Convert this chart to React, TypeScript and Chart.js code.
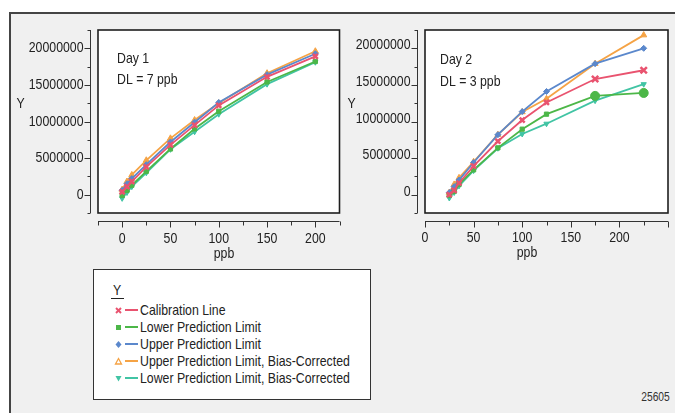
import React, { useEffect, useRef } from 'react';
import { Chart, registerables } from 'chart.js';

Chart.register(...registerables);

const FONT = '"Liberation Sans Narrow", "Liberation Sans", Arial, sans-serif';
const NARROW = 0.82;

const RED = '#e9536f';
const GREEN = '#4cb748';
const BLUE = '#5b88cc';
const ORANGE = '#f5a345';
const TEAL = '#41c4a4';

const seriesLabels = [
  'Calibration Line',
  'Lower Prediction Limit',
  'Upper Prediction Limit',
  'Upper Prediction Limit, Bias-Corrected',
  'Lower Prediction Limit, Bias-Corrected',
];

// Day 1
const day1Ppb = [0, 5, 10, 25, 50, 75, 100, 150, 200];
const day1Calibration = [400000, 1100000, 1800000, 3800000, 6800000, 9500000, 12200000, 16100000, 18900000];
const day1Lower = [-100000, 600000, 1300000, 3200000, 6250000, 9000000, 11400000, 15400000, 18200000];
const day1Upper = [600000, 1500000, 2200000, 4100000, 7200000, 9900000, 12600000, 16400000, 19250000];
const day1UpperBC = [700000, 1800000, 2700000, 4700000, 7700000, 10200000, 12500000, 16600000, 19600000];
const day1LowerBC = [-500000, 300000, 1100000, 3000000, 6200000, 8600000, 11000000, 15100000, 18100000];

// Day 2
const day2Ppb = [25, 30, 35, 50, 75, 100, 125, 175, 225];
const day2Calibration = [0, 600000, 1600000, 3900000, 7300000, 10200000, 12600000, 15800000, 17000000];
const day2Lower = [-100000, 450000, 1400000, 3400000, 6400000, 8950000, 11000000, 13500000, 13900000];
const day2Upper = [300000, 1100000, 2000000, 4400000, 8200000, 11350000, 14100000, 17900000, 20000000];
const day2UpperBC = [300000, 1400000, 2300000, 4500000, 8200000, 11300000, 13100000, 17900000, 21800000];
const day2LowerBC = [-450000, 300000, 1200000, 3300000, 6350000, 8300000, 9700000, 12850000, 15100000];

const yMin = -2500000;
const yMax = 22500000;
const yStep = 2500000;
const yLabelStep = 5000000;
const xStep = 25;
const xLabelStep = 50;
const xLabelMax = 200;

type Txt = { text: string; x: number; y: number; align?: CanvasTextAlign };

function drawNarrow(ctx: CanvasRenderingContext2D, text: string, x: number, y: number, align: CanvasTextAlign) {
  ctx.save();
  ctx.translate(x, y);
  ctx.scale(NARROW, 1);
  ctx.textAlign = align;
  ctx.fillText(text, 0, 0);
  ctx.restore();
}

const panelPlugin = {
  id: 'panel',
  beforeDraw(chart: any) {
    const { ctx, chartArea: a } = chart;
    ctx.save();
    ctx.fillStyle = '#ffffff';
    ctx.fillRect(a.left, a.top, a.right - a.left, a.bottom - a.top);
    ctx.restore();
  },
  afterDraw(chart: any, _args: any, opts: any) {
    const { ctx, chartArea: a, scales } = chart;
    const xs = scales.x;
    const ys = scales.y;
    ctx.save();
    ctx.strokeStyle = '#1e1e1e';
    ctx.lineWidth = 1.6;
    ctx.strokeRect(a.left, a.top, a.right - a.left, a.bottom - a.top);
    ctx.strokeStyle = '#333';
    ctx.lineWidth = 1;
    ctx.beginPath();
    const ax = Math.round(a.left - 8) + 0.5;
    ctx.moveTo(ax, a.top);
    ctx.lineTo(ax, a.bottom);
    for (const t of ys.ticks) {
      const p = Math.round(ys.getPixelForValue(t.value)) + 0.5;
      const major = Math.abs(t.value % yLabelStep) < 1;
      ctx.moveTo(ax, p);
      ctx.lineTo(ax - (major ? 6 : 3), p);
    }
    const ay = Math.round(a.bottom + 8) + 0.5;
    ctx.moveTo(a.left, ay);
    ctx.lineTo(a.right, ay);
    for (const t of xs.ticks) {
      const p = Math.round(xs.getPixelForValue(t.value)) + 0.5;
      const major = Math.abs(t.value % xLabelStep) < 0.001;
      ctx.moveTo(p, ay);
      ctx.lineTo(p, ay + (major ? 6 : 4));
    }
    ctx.stroke();

    ctx.fillStyle = '#222';
    ctx.font = `15px ${FONT}`;
    ctx.textBaseline = 'middle';
    // y tick labels
    for (const t of ys.ticks) {
      if (Math.abs(t.value % yLabelStep) >= 1) continue;
      const p = ys.getPixelForValue(t.value) + (opts.yLabelOffset || 0);
      drawNarrow(ctx, String(t.value), a.left - opts.yLabelGap, p, 'right');
    }
    // x tick labels
    for (const t of xs.ticks) {
      const v = t.value;
      if (Math.abs(v % xLabelStep) > 0.001 || v < 0 || v > xLabelMax) continue;
      drawNarrow(ctx, String(v), xs.getPixelForValue(v), opts.xLabelY, 'center');
    }
    for (const it of (opts.texts || []) as Txt[]) {
      drawNarrow(ctx, it.text, it.x, it.y, it.align || 'left');
    }
    ctx.restore();
  },
};

function buildDatasets(xs: number[], vals: number[][], day2: boolean) {
  const styles = [
    { color: RED, style: 'crossRot', radius: 3.5, bw: 2.5, rot: 0 },
    { color: GREEN, style: 'rect', radius: 3, bw: 1, rot: 0 },
    { color: BLUE, style: 'rectRot', radius: 3, bw: 1, rot: 0 },
    { color: ORANGE, style: 'triangle', radius: 3.5, bw: 1, rot: 0 },
    { color: TEAL, style: 'triangle', radius: 3, bw: 1, rot: 180 },
  ];
  return vals.map((v, i) => {
    const s = styles[i];
    let pointStyle: any = s.style;
    let pointRadius: any = s.radius;
    if (day2 && i === 1) {
      pointStyle = xs.map((x) => (x >= 175 ? 'circle' : 'rect'));
      pointRadius = xs.map((x) => (x >= 175 ? 4.5 : 3));
    }
    if (day2 && i === 0) {
      pointRadius = xs.map((x) => (x >= 175 ? 4.5 : 3.5));
    }
    return {
      label: seriesLabels[i],
      data: xs.map((x, k) => ({ x, y: v[k] })),
      borderColor: s.color,
      backgroundColor: s.color,
      borderWidth: 1.8,
      pointStyle,
      pointRadius,
      pointRotation: s.rot,
      pointBorderWidth: s.bw,
      pointBorderColor: s.color,
      pointBackgroundColor: s.color,
      tension: 0,
    };
  });
}

function makeConfig(
  xs: number[],
  vals: number[][],
  day2: boolean,
  xMin: number,
  xMax: number,
  yWidth: number,
  padRight: number,
  panel: any
): any {
  return {
    type: 'line',
    data: { datasets: buildDatasets(xs, vals, day2) },
    plugins: [panelPlugin],
    options: {
      animation: false,
      responsive: false,
      devicePixelRatio: 1,
      events: [],
      layout: { padding: { top: 15, right: padRight, left: 0, bottom: 0 } },
      plugins: {
        legend: { display: false },
        tooltip: { enabled: false },
        panel,
      },
      scales: {
        x: {
          type: 'linear',
          min: xMin,
          max: xMax,
          grid: { display: false, drawTicks: false },
          border: { display: false },
          ticks: { stepSize: xStep, autoSkip: false, maxRotation: 0, display: false },
          afterFit: (s: any) => {
            s.height = 52;
          },
        },
        y: {
          type: 'linear',
          min: yMin,
          max: yMax,
          grid: { display: false, drawTicks: false },
          border: { display: false },
          ticks: { stepSize: yStep, autoSkip: false, display: false },
          afterFit: (s: any) => {
            s.width = yWidth;
          },
        },
      },
    },
  };
}

function Marker({ kind, color }: { kind: number; color: string }) {
  return (
    <svg width={9} height={9} viewBox="-4.5 -4.5 9 9" style={{ display: 'block' }}>
      {kind === 0 && (
        <g stroke={color} strokeWidth={2}>
          <line x1={-2.5} y1={-2.5} x2={2.5} y2={2.5} />
          <line x1={-2.5} y1={2.5} x2={2.5} y2={-2.5} />
        </g>
      )}
      {kind === 1 && <rect x={-2.5} y={-2.5} width={5} height={5} fill={color} />}
      {kind === 2 && <polygon points="0,-3.5 3,0 0,3.5 -3,0" fill={color} />}
      {kind === 3 && <polygon points="0,-3 3,2.5 -3,2.5" fill="none" stroke={color} strokeWidth={1.3} />}
      {kind === 4 && <polygon points="0,3 3,-2.5 -3,-2.5" fill={color} />}
    </svg>
  );
}

const narrowSpan: React.CSSProperties = {
  display: 'inline-block',
  transform: `scaleX(${NARROW})`,
  transformOrigin: 'left center',
  whiteSpace: 'nowrap',
};

export default function App() {
  const c1 = useRef<HTMLCanvasElement>(null);
  const c2 = useRef<HTMLCanvasElement>(null);

  useEffect(() => {
    document.body.style.margin = '0';
    const ch1 = new Chart(
      c1.current as HTMLCanvasElement,
      makeConfig(
        day1Ppb,
        [day1Calibration, day1Lower, day1Upper, day1UpperBC, day1LowerBC],
        false,
        -25,
        225,
        88,
        1,
        {
          yLabelGap: 14.5,
          yLabelOffset: 0,
          xLabelY: 224,
          texts: [
            { text: 'Y', x: 10.5, y: 88.5, align: 'center' },
            { text: 'Day 1', x: 107, y: 43.5 },
            { text: 'DL = 7 ppb', x: 107, y: 65 },
            { text: 'ppb', x: 214, y: 239, align: 'center' },
          ],
        }
      )
    );
    const ch2 = new Chart(
      c2.current as HTMLCanvasElement,
      makeConfig(
        day2Ppb,
        [day2Calibration, day2Lower, day2Upper, day2UpperBC, day2LowerBC],
        true,
        0,
        250,
        79,
        5,
        {
          yLabelGap: 14.5,
          yLabelOffset: -3,
          xLabelY: 222.5,
          texts: [
            { text: 'Y', x: 5.5, y: 88.5, align: 'center' },
            { text: 'Day 2', x: 94, y: 45 },
            { text: 'DL = 3 ppb', x: 94, y: 66.5 },
            { text: 'ppb', x: 181, y: 238, align: 'center' },
          ],
        }
      )
    );
    return () => {
      ch1.destroy();
      ch2.destroy();
    };
  }, []);

  const colors = [RED, GREEN, BLUE, ORANGE, TEAL];
  const rowY = [40, 57, 74, 91, 108];

  return (
    <div style={{ position: 'relative', width: 675, height: 413, background: '#fff', overflow: 'hidden', fontFamily: FONT }}>
      <div
        style={{
          position: 'absolute',
          left: 9,
          top: 12,
          width: 670,
          height: 410,
          borderLeft: '2px solid #444',
          borderTop: '2px solid #444',
          background: '#f0f0f0',
        }}
      />
      <canvas ref={c1} width={336} height={250} style={{ position: 'absolute', left: 10, top: 15, width: 336, height: 250 }} />
      <canvas ref={c2} width={329} height={250} style={{ position: 'absolute', left: 346, top: 15, width: 329, height: 250 }} />
      <div
        style={{
          position: 'absolute',
          left: 93,
          top: 269,
          width: 276,
          height: 129,
          border: '1.5px solid #333',
          background: '#ffffff',
          color: '#222',
          fontSize: 15,
        }}
      >
        <div
          style={{
            position: 'absolute',
            left: 17,
            top: 11,
            width: 13,
            height: 17,
            lineHeight: '17px',
            borderBottom: '1.5px solid #222',
            textAlign: 'center',
          }}
        >
          <span style={{ display: 'inline-block', transform: `scaleX(${NARROW})` }}>Y</span>
        </div>
        {seriesLabels.map((lab, i) => (
          <div key={lab} style={{ position: 'absolute', left: 20, top: rowY[i] - 9, height: 18, display: 'flex', alignItems: 'center', whiteSpace: 'nowrap' }}>
            <Marker kind={i} color={colors[i]} />
            <div style={{ width: 13, height: 2, background: colors[i], marginLeft: 2, marginRight: 2 }} />
            <span style={{ ...narrowSpan, lineHeight: '18px' }}>{lab}</span>
          </div>
        ))}
      </div>
      <div style={{ position: 'absolute', left: 628, top: 389, width: 42, textAlign: 'right', fontSize: 12.5, color: '#333', lineHeight: '16px' }}>
        <span style={{ ...narrowSpan, transformOrigin: 'right center' }}>25605</span>
      </div>
    </div>
  );
}
